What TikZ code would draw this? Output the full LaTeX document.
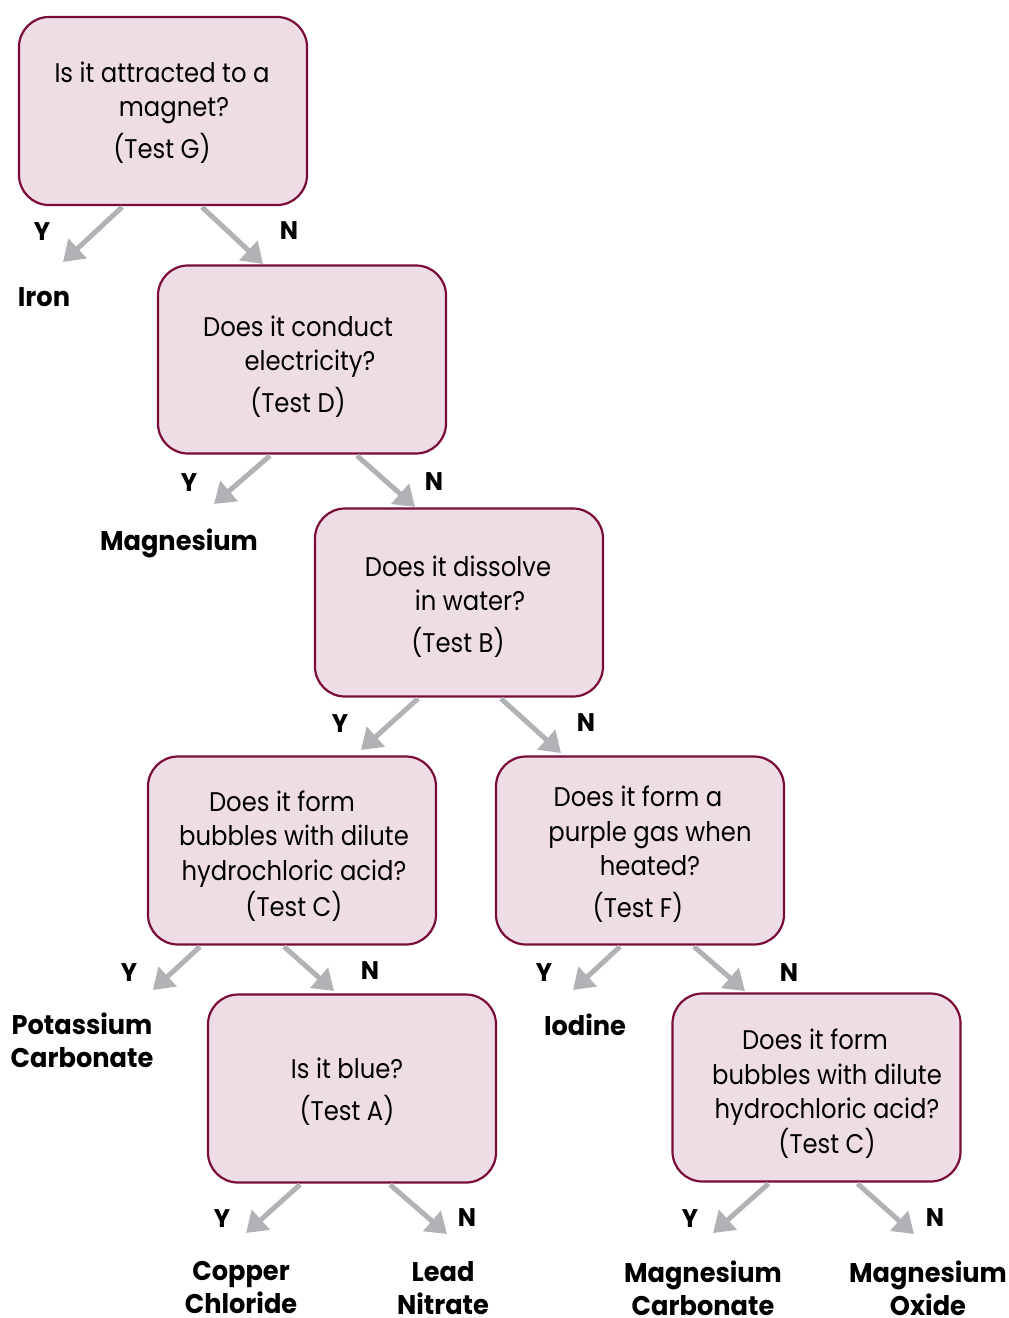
\documentclass[tikz,border=0pt]{standalone}
\usepackage{fontspec}
\usetikzlibrary{arrows.meta,calc}
\newfontfamily\boxfont{Poppins}[FakeStretch=0.9]
\newfontfamily\labfont{Poppins}[FakeStretch=0.95]
\definecolor{boxfill}{RGB}{238,221,228}
\definecolor{boxline}{RGB}{122,12,58}
\definecolor{arrgray}{RGB}{176,178,181}
% shift a line right (#1 = twice the shift) or left
\newcommand{\shR}[2]{\hspace*{#1}#2}
\newcommand{\shL}[2]{#2\hspace*{#1}}
\tikzset{
  qbox/.style={draw=boxline, fill=boxfill, line width=2.2pt, rounded corners=30pt,
    minimum width=288pt, minimum height=188pt, inner sep=0pt},
  qtext/.style={align=center, inner sep=0pt,
    font=\boxfont\fontsize{27}{34.5}\selectfont},
  yn/.style={font=\labfont\bfseries\fontsize{25.5}{30}\selectfont, inner sep=0pt},
  res/.style={font=\labfont\bfseries\fontsize{27}{33}\selectfont, align=center, inner sep=0pt},
  arr/.style={draw=arrgray, line width=5pt, -{Triangle[length=20pt,width=26pt]}}
}
\begin{document}
\begin{tikzpicture}[x=1pt,y=-1pt]
\useasboundingbox (0,0) rectangle (1009,1318);
% boxes
\node[qbox] (b1) at (163,111) {};
\node[qbox] (b2) at (302,359.5) {};
\node[qbox] (b3) at (459,602.5) {};
\node[qbox] (b4) at (292,850.5) {};
\node[qbox] (b5) at (640,850.5) {};
\node[qbox] (b6) at (352,1088.5) {};
\node[qbox] (b7) at (816.5,1087.5) {};
% box texts
\node[qtext] (b1t) at (162,112.5) {Is it attracted to a\\ \shR{24pt}{magnet?}\\[7pt] (Test G)};
\node[qtext] (b2t) at (298,366.5) {Does it conduct\\ \shR{24pt}{electricity?}\\[7pt] (Test D)};
\node[qtext] (b3t) at (458,606.5) {Does it dissolve\\ \shR{24pt}{in water?}\\[7pt] (Test B)};
\node[qtext] (b4t) at (294,856) {\shL{24pt}{Does it form}\\ bubbles with dilute\\ hydrochloric acid?\\[1.5pt] (Test C)};
\node[qtext] (b5t) at (644,854) {\shL{12pt}{Does it form a}\\ \shR{12pt}{purple gas when}\\ \shR{12pt}{heated?}\\[7pt] \shL{12pt}{(Test F)}};
\node[qtext] (b6t) at (347,1091.5) {Is it blue?\\[7pt] (Test A)};
\node[qtext] (b7t) at (827,1093.5) {\shL{24pt}{Does it form}\\ bubbles with dilute\\ hydrochloric acid?\\ (Test C)};
% results
\node[res] (iron) at (44,297) {Iron};
\node[res] (mg) at (179,543) {Magnesium};
\node[res] (pc) at (82,1040) {Potassium\\Carbonate};
\node[res] (iod) at (585,1025) {Iodine};
\node[res] (cc) at (241,1288) {Copper\\Chloride};
\node[res] (ln) at (443,1288) {Lead\\Nitrate};
\node[res] (mc) at (703,1288) {Magnesium\\Carbonate};
\node[res] (mo) at (928,1288) {Magnesium\\Oxide};
% Y/N labels
\node[yn] (y1) at (42,232) {Y};  \node[yn] (n1) at (289,231) {N};
\node[yn] (y2) at (189,483) {Y}; \node[yn] (n2) at (434,482) {N};
\node[yn] (y3) at (340,724) {Y}; \node[yn] (n3) at (586,723) {N};
\node[yn] (y4) at (129,973) {Y}; \node[yn] (n4) at (370,971) {N};
\node[yn] (y5) at (544,973) {Y}; \node[yn] (n5) at (789,973) {N};
\node[yn] (y6) at (222,1219) {Y}; \node[yn] (n6) at (467,1218) {N};
\node[yn] (y7) at (690,1219) {Y}; \node[yn] (n7) at (935,1218) {N};
% arrow tips
\coordinate (t1y) at (63,262);   \coordinate (t1n) at (263,264);
\coordinate (t2y) at (214,504);  \coordinate (t2n) at (415,507);
\coordinate (t3y) at (361,750);  \coordinate (t3n) at (561,753);
\coordinate (t4y) at (153,990);  \coordinate (t4n) at (334,991);
\coordinate (t5y) at (573,990);  \coordinate (t5n) at (745,991);
\coordinate (t6y) at (246,1233); \coordinate (t6n) at (447,1234);
\coordinate (t7y) at (713,1233); \coordinate (t7n) at (914,1234);
% arrows
\draw[arr] ($(b1.south)+(-41,1)$) -- (t1y);
\draw[arr] ($(b1.south)+(39,1)$) -- (t1n);
\draw[arr] ($(b2.south)+(-32,1)$) -- (t2y);
\draw[arr] ($(b2.south)+(55,1)$) -- (t2n);
\draw[arr] ($(b3.south)+(-41,1)$) -- (t3y);
\draw[arr] ($(b3.south)+(42,1)$) -- (t3n);
\draw[arr] ($(b4.south)+(-92,1)$) -- (t4y);
\draw[arr] ($(b4.south)+(-8,1)$) -- (t4n);
\draw[arr] ($(b5.south)+(-20,1)$) -- (t5y);
\draw[arr] ($(b5.south)+(54,1)$) -- (t5n);
\draw[arr] ($(b6.south)+(-52,1)$) -- (t6y);
\draw[arr] ($(b6.south)+(38,1)$) -- (t6n);
\draw[arr] ($(b7.south)+(-48,1)$) -- (t7y);
\draw[arr] ($(b7.south)+(41,1)$) -- (t7n);
\end{tikzpicture}
\end{document}
